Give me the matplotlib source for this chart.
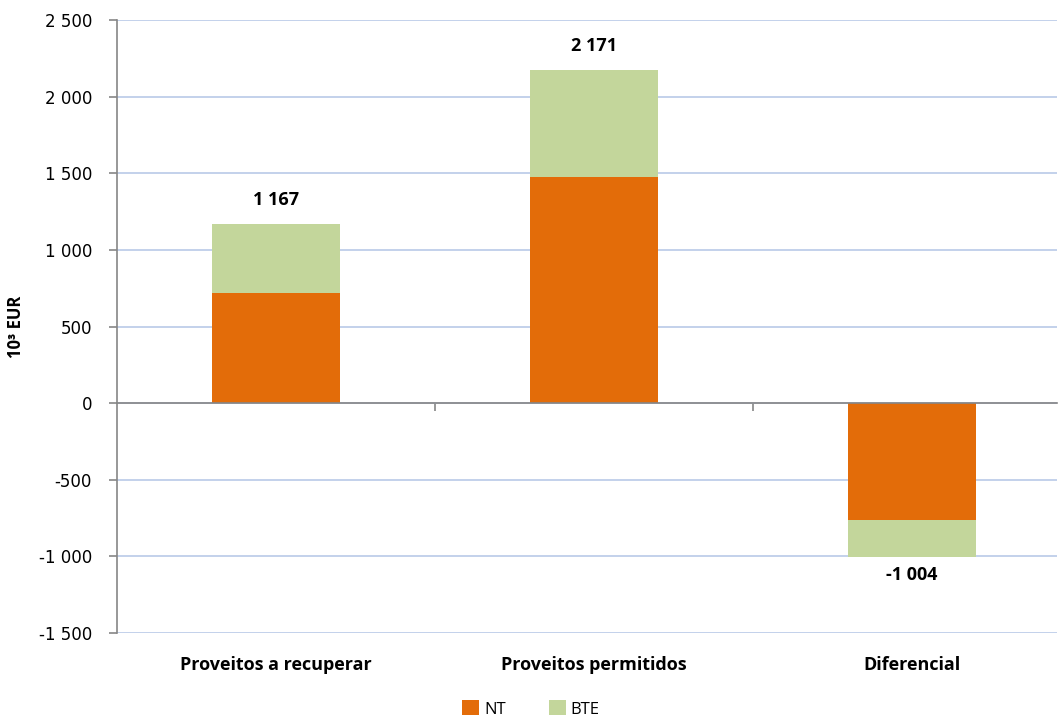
import matplotlib
matplotlib.use('Agg')
import matplotlib.pyplot as plt
import matplotlib.transforms as mtransforms
from matplotlib.patches import Patch
import numpy as np

categories = ['Proveitos a recuperar', 'Proveitos permitidos', 'Diferencial']
nt = [718, 1478, -760]
bte = [449, 693, -244]
totals = ['1 167', '2 171', '-1 004']
yticks = [-1500, -1000, -500, 0, 500, 1000, 1500, 2000, 2500]
ytick_labels = ['-1 500', '-1 000', '-500', '0', '500', '1 000', '1 500', '2 000', '2 500']

c_nt = '#E36C09'
c_bte = '#C3D69B'
bold_font = 'Open Sans'

fig = plt.figure(figsize=(10.58, 7.2), dpi=100)
ax = fig.add_axes([117 / 1058, 1 - 633 / 720, 940 / 1058, 613 / 720])

x = np.arange(len(categories))
w = 0.4
ax.bar(x, nt, width=w, color=c_nt, zorder=3)
ax.bar(x, bte, width=w, bottom=nt, color=c_bte, zorder=3)

# total labels above / below bars
for i, lab in enumerate(totals):
    tot = nt[i] + bte[i]
    if tot >= 0:
        ax.text(x[i], tot + 100, lab, ha='center', va='bottom', fontsize=13,
                fontweight='bold', family=bold_font)
    else:
        ax.text(x[i], tot - 60, lab, ha='center', va='top', fontsize=13,
                fontweight='bold', family=bold_font)

ax.set_xlim(-0.5, 2.456)
ax.set_ylim(-1500, 2500)
ax.set_yticks(yticks)
ax.set_yticklabels(ytick_labels, fontsize=12)
ax.yaxis.grid(True, color='#B9C9E8', linewidth=1.2, zorder=0)
ax.set_axisbelow(True)

for s in ['top', 'right']:
    ax.spines[s].set_visible(False)
ax.spines['left'].set_color('#868686')
ax.spines['left'].set_linewidth(1.2)
ax.spines['bottom'].set_position(('data', 0))
ax.spines['bottom'].set_color('#868686')
ax.spines['bottom'].set_linewidth(1.2)
ax.spines['bottom'].set_zorder(4)
ax.tick_params(axis='y', length=6, color='#868686', width=1.2, pad=12)
ax.set_xticks([])
ax.set_xticks([0.5, 1.5], minor=True)
ax.tick_params(axis='x', which='minor', length=6, color='#868686', width=1.2)

trans = mtransforms.blended_transform_factory(ax.transData, ax.transAxes)
for i, c in enumerate(categories):
    ax.text(x[i], -0.052, c, transform=trans, ha='center', va='center',
            fontsize=13, fontweight='bold', family=bold_font)

ax.set_ylabel('10³ EUR', fontsize=12, fontweight='bold', family=bold_font, labelpad=10)

handles = [Patch(facecolor=c_nt, label='NT'), Patch(facecolor=c_bte, label='BTE')]
fig.legend(handles=handles, loc='center', bbox_to_anchor=(0.502, 1 - 709 / 720), ncol=2,
           frameon=False, handlelength=1.0, handleheight=1.0,
           handletextpad=0.3, columnspacing=2.6, prop={'family': bold_font, 'size': 12})

fig.savefig('out.png', dpi=100)
